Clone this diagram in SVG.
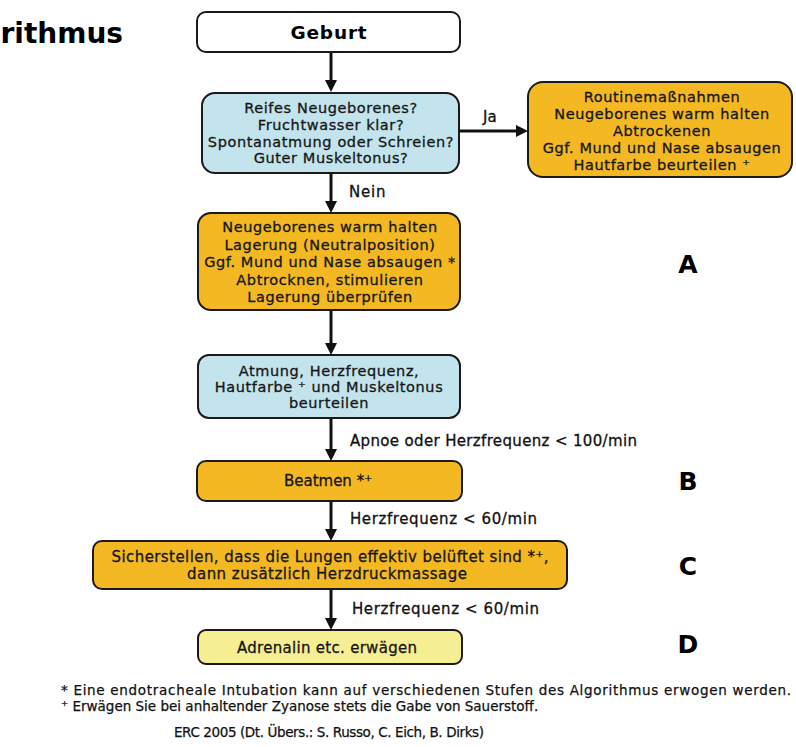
<svg xmlns="http://www.w3.org/2000/svg" width="796" height="747" viewBox="0 0 796 747">
<defs>
<marker id="ah" viewBox="0 0 12 12" refX="4" refY="6" markerWidth="12" markerHeight="12" orient="auto" markerUnits="userSpaceOnUse">
<path d="M0,0 L12,6 L0,12 z" fill="#111"/>
</marker>
<style>
.box{stroke:#1a1a1a;stroke-width:2}
.white{fill:#ffffff}
.blue{fill:#c3e4ec}
.orange{fill:#f4b922}
.pale{fill:#f6ee93}
.t{font-family:"DejaVu Sans","Verdana",sans-serif;font-size:14.5px;fill:#161616;stroke:#161616;stroke-width:0.3px;text-anchor:middle;letter-spacing:0.6px}
.tb{font-family:"DejaVu Sans","Verdana",sans-serif;font-size:15px;fill:#161616;stroke:#161616;stroke-width:0.3px;text-anchor:middle}
.lbl{font-family:"DejaVu Sans","Verdana",sans-serif;font-size:15px;fill:#111;stroke:#111;stroke-width:0.3px}
.big{font-family:"DejaVu Sans","Verdana",sans-serif;font-weight:bold;fill:#000}
.fn{font-family:"DejaVu Sans","Verdana",sans-serif;font-size:13.5px;fill:#111;stroke:#111;stroke-width:0.25px}
.conn{stroke:#111;stroke-width:3;fill:none;marker-end:url(#ah)}
</style>
</defs>
<rect width="796" height="747" fill="#ffffff"/>
<text class="big" x="123" y="43" font-size="28" text-anchor="end">rithmus</text>

<g id="connectors">
<path class="conn" d="M331,52 V84"/>
<path class="conn" d="M459,131 H520"/>
<path class="conn" d="M331,173 V205"/>
<path class="conn" d="M331,310 V347"/>
<path class="conn" d="M331,418 V453"/>
<path class="conn" d="M331,501 V533"/>
<path class="conn" d="M331,589 V622"/>
<text class="lbl" x="483" y="122" font-size="14">Ja</text>
<text class="lbl" x="349" y="197" font-size="14" letter-spacing="0.8">Nein</text>
<text class="lbl" x="350" y="446" textLength="287" lengthAdjust="spacing">Apnoe oder Herzfrequenz &lt; 100/min</text>
<text class="lbl" x="350" y="524" textLength="187" lengthAdjust="spacing">Herzfrequenz &lt; 60/min</text>
<text class="lbl" x="352" y="614" textLength="187" lengthAdjust="spacing">Herzfrequenz &lt; 60/min</text>
</g>

<g id="geburt">
<rect class="box white" x="197" y="12" width="263" height="40" rx="9"/>
<text class="big" x="329" y="39" font-size="18.5" text-anchor="middle" letter-spacing="0.8">Geburt</text>
</g>

<g id="check">
<rect class="box blue" x="202" y="93" width="257" height="80" rx="13"/>
<text class="t" x="331" y="113">Reifes Neugeborenes?</text>
<text class="t" x="331" y="130">Fruchtwasser klar?</text>
<text class="t" x="331" y="147">Spontanatmung oder Schreien?</text>
<text class="t" x="331" y="163">Guter Muskeltonus?</text>
</g>

<g id="routine">
<rect class="box orange" x="528" y="82" width="264" height="95" rx="15"/>
<text class="t" x="662" y="102">Routinemaßnahmen</text>
<text class="t" x="662" y="119">Neugeborenes warm halten</text>
<text class="t" x="662" y="136">Abtrockenen</text>
<text class="t" x="662" y="153">Ggf. Mund und Nase absaugen</text>
<text class="t" x="662" y="170">Hautfarbe beurteilen ⁺</text>
</g>

<g id="stepA">
<rect class="box orange" x="198" y="213" width="262" height="97" rx="13"/>
<text class="t" x="330" y="232">Neugeborenes warm halten</text>
<text class="t" x="330" y="249.5">Lagerung (Neutralposition)</text>
<text class="t" x="330" y="267">Ggf. Mund und Nase absaugen *</text>
<text class="t" x="330" y="284.5">Abtrocknen, stimulieren</text>
<text class="t" x="330" y="302">Lagerung überprüfen</text>
</g>

<g id="assess">
<rect class="box blue" x="198" y="355" width="262" height="63" rx="11"/>
<text class="t" x="329" y="376">Atmung, Herzfrequenz,</text>
<text class="t" x="329" y="392">Hautfarbe ⁺ und Muskeltonus</text>
<text class="t" x="329" y="408">beurteilen</text>
</g>

<g id="stepB">
<rect class="box orange" x="197" y="461" width="265" height="40" rx="9"/>
<text class="tb" x="328" y="486" font-size="14">Beatmen *⁺</text>
</g>

<g id="stepC">
<rect class="box orange" x="93" y="541" width="474" height="48" rx="9"/>
<text class="tb" x="330" y="562" textLength="437" lengthAdjust="spacing">Sicherstellen, dass die Lungen effektiv belüftet sind *⁺,</text>
<text class="tb" x="327" y="579" textLength="280" lengthAdjust="spacing">dann zusätzlich Herzdruckmassage</text>
</g>

<g id="stepD">
<rect class="box pale" x="198" y="630" width="264" height="34" rx="8"/>
<text class="tb" x="327" y="653" textLength="180" lengthAdjust="spacing">Adrenalin etc. erwägen</text>
</g>

<g id="letters">
<text class="big" x="688" y="273" font-size="25" text-anchor="middle">A</text>
<text class="big" x="688" y="490" font-size="25" text-anchor="middle">B</text>
<text class="big" x="688" y="575" font-size="25" text-anchor="middle">C</text>
<text class="big" x="688" y="653" font-size="25" text-anchor="middle">D</text>
</g>

<g id="footnotes">
<text class="fn" x="61" y="695" textLength="730" lengthAdjust="spacing">* Eine endotracheale Intubation kann auf verschiedenen Stufen des Algorithmus erwogen werden.</text>
<text class="fn" x="61" y="711">⁺ Erwägen Sie bei anhaltender Zyanose stets die Gabe von Sauerstoff.</text>
<text class="fn" x="174" y="737" font-size="11.5" stroke-width="0.2" textLength="310" lengthAdjust="spacing">ERC 2005 (Dt. Übers.: S. Russo, C. Eich, B. Dirks)</text>
</g>
</svg>
